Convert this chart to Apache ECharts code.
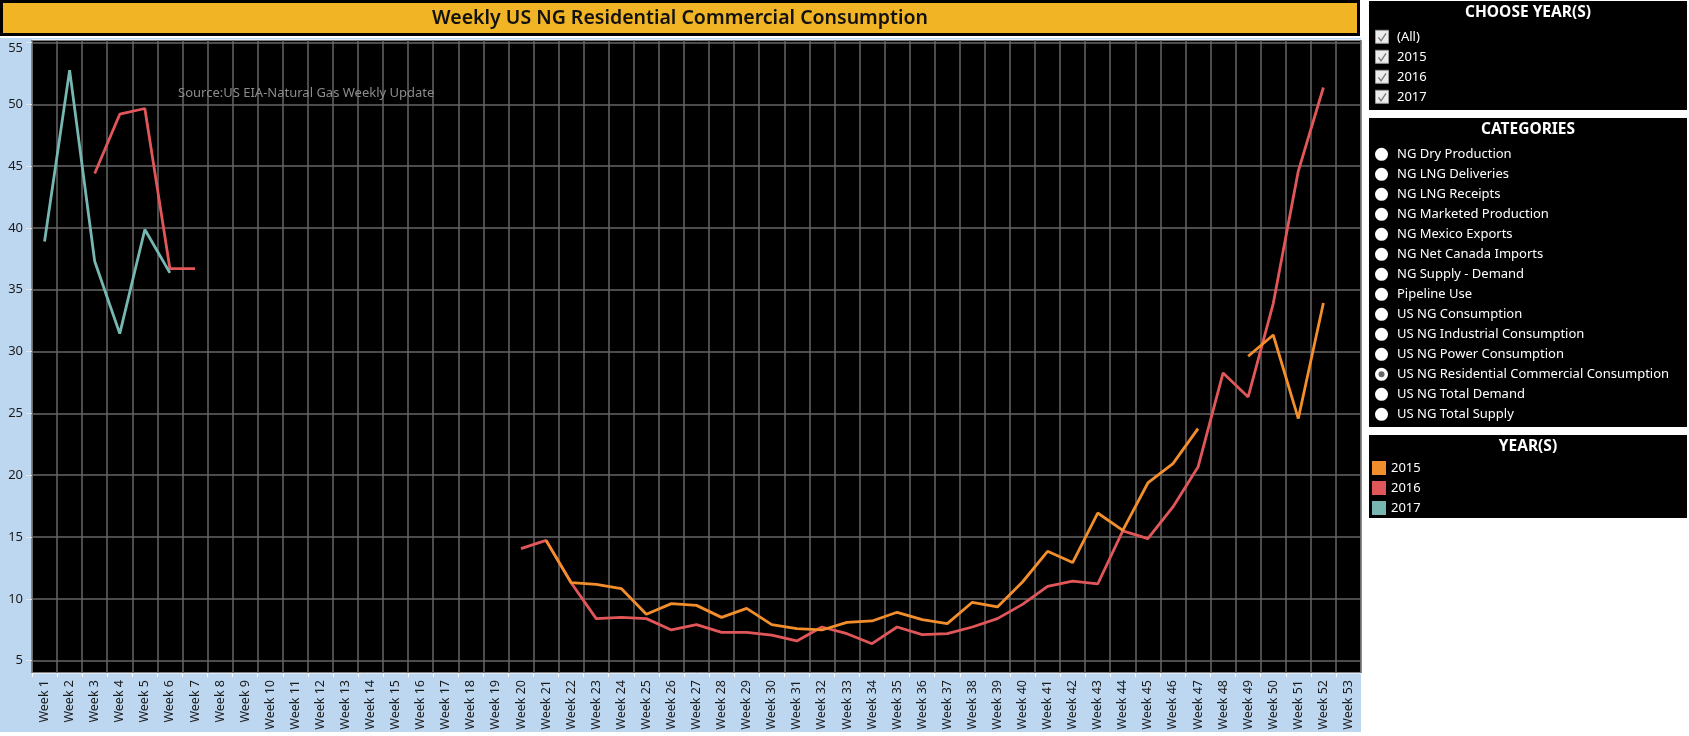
<!DOCTYPE html>
<html>
<head>
<meta charset="utf-8">
<script src="https://cdn.jsdelivr.net/npm/echarts@6/dist/echarts.min.js"></script>
<style>
html,body{margin:0;padding:0;background:#fff;}
#chart{width:1689px;height:736px;}
</style>
</head>
<body>
<div id="chart"></div>
<script>
// ---------- data ----------
var weeks = [];
for (var i = 1; i <= 53; i++) { weeks.push('Week ' + i); }
var yTicks = [5, 10, 15, 20, 25, 30, 35, 40, 45, 50, 55];
var years = ['2015', '2016', '2017'];
var yearColors = ['#F28E2B', '#E15759', '#76B7B2'];
// values by week (Week 1 .. Week 53), null = no data
var v2015 = [null, null, null, null, null, null, null, null, null, null,
  null, null, null, null, null, null, null, null, null, null,
  14.73, 11.31, 11.17, 10.83, 8.75, 9.61, 9.47, 8.50, 9.23, 7.91,
  7.59, 7.48, 8.10, 8.21, 8.91, 8.32, 7.99, 9.72, 9.34, 11.36,
  13.84, 12.93, 16.94, 15.54, 19.37, 20.94, 23.77, null, 29.62, 31.34,
  24.58, 33.93, null];
var v2016 = [null, null, 44.4, 49.2, 49.66, 36.7, 36.7, null, null, null,
  null, null, null, null, null, null, null, null, null, 14.06,
  14.73, 11.30, 8.40, 8.50, 8.40, 7.48, 7.91, 7.29, 7.29, 7.07,
  6.59, 7.72, 7.18, 6.37, 7.72, 7.10, 7.18, 7.72, 8.40, 9.55,
  11.01, 11.44, 11.20, 15.49, 14.87, 17.43, 20.66, 28.27, 26.33, 33.88,
  44.6, 51.36, null];
var v2017 = [38.9, 52.76, 37.3, 31.45, 39.87, 36.36, null, null, null, null,
  null, null, null, null, null, null, null, null, null, null,
  null, null, null, null, null, null, null, null, null, null,
  null, null, null, null, null, null, null, null, null, null,
  null, null, null, null, null, null, null, null, null, null,
  null, null, null];
var chooseYears = ['(All)', '2015', '2016', '2017'];
var categories = ['NG Dry Production', 'NG LNG Deliveries', 'NG LNG Receipts',
  'NG Marketed Production', 'NG Mexico Exports', 'NG Net Canada Imports',
  'NG Supply - Demand', 'Pipeline Use', 'US NG Consumption',
  'US NG Industrial Consumption', 'US NG Power Consumption',
  'US NG Residential Commercial Consumption', 'US NG Total Demand', 'US NG Total Supply'];
var selectedCategory = 'US NG Residential Commercial Consumption';
var titleText = 'Weekly US NG Residential Commercial Consumption';
var sourceText = 'Source:US EIA-Natural Gas Weekly Update';

// ---------- layout ----------
var FONT = 'Noto Sans';
var panelX = 1369, panelW = 318, textX = 1397;
var graphics = [];
// light blue axis band
graphics.push({type: 'rect', z: -10, shape: {x: 0, y: 38, width: 1361, height: 694}, style: {fill: '#BDD7F1'}});
// title bar
graphics.push({type: 'rect', shape: {x: 1.5, y: 1.5, width: 1357, height: 33}, style: {fill: '#F0B424', stroke: '#000', lineWidth: 3}});
graphics.push({type: 'text', x: 680, y: 18.5, style: {text: titleText, fill: '#111', font: '600 19.5px "' + FONT + '"', align: 'center', verticalAlign: 'middle'}});
// source note
graphics.push({type: 'text', z: 50, x: 178, y: 93.5, style: {text: sourceText, fill: '#8c8c8c', font: '13px "' + FONT + '"', align: 'left', verticalAlign: 'middle'}});

// panel 1: choose years
graphics.push({type: 'rect', shape: {x: panelX, y: 1, width: panelW, height: 109}, style: {fill: '#000'}});
graphics.push({type: 'text', x: 1528, y: 13, style: {text: 'CHOOSE YEAR(S)', fill: '#fff', font: 'bold 15.5px "' + FONT + '"', align: 'center', verticalAlign: 'middle'}});
chooseYears.forEach(function (t, k) {
  var cy = 37.3 + 20 * k;
  graphics.push({type: 'rect', shape: {x: 1375.5, y: cy - 7, width: 13, height: 13}, style: {fill: '#ececec', stroke: '#9a9a9a', lineWidth: 1}});
  graphics.push({type: 'polyline', shape: {points: [[1378.5, cy], [1381, cy + 3.5], [1386, cy - 4]]}, style: {stroke: '#777', lineWidth: 1.3, fill: null}});
  graphics.push({type: 'text', x: textX, y: cy, style: {text: t, fill: '#fff', font: '13px "' + FONT + '"', align: 'left', verticalAlign: 'middle'}});
});
// panel 2: categories
graphics.push({type: 'rect', shape: {x: panelX, y: 118, width: panelW, height: 309}, style: {fill: '#000'}});
graphics.push({type: 'text', x: 1528, y: 129.5, style: {text: 'CATEGORIES', fill: '#fff', font: 'bold 15.5px "' + FONT + '"', align: 'center', verticalAlign: 'middle'}});
categories.forEach(function (t, k) {
  var cy = 154.3 + 20 * k;
  graphics.push({type: 'circle', shape: {cx: 1381.5, cy: cy, r: 6.5}, style: {fill: '#fff'}});
  if (t === selectedCategory) {
    graphics.push({type: 'circle', shape: {cx: 1381.5, cy: cy, r: 3}, style: {fill: '#666'}});
  }
  graphics.push({type: 'text', x: textX, y: cy, style: {text: t, fill: '#fff', font: '13px "' + FONT + '"', align: 'left', verticalAlign: 'middle'}});
});
// panel 3: legend box
graphics.push({type: 'rect', shape: {x: panelX, y: 435, width: panelW, height: 83}, style: {fill: '#000'}});
graphics.push({type: 'text', x: 1528, y: 446.7, style: {text: 'YEAR(S)', fill: '#fff', font: 'bold 15.5px "' + FONT + '"', align: 'center', verticalAlign: 'middle'}});

var seriesData = [v2015, v2016, v2017];
var zOrder = [4, 2, 3];
var series = years.map(function (y, k) {
  return {
    name: y, type: 'line', data: seriesData[k], symbol: 'none', connectNulls: false,
    z: zOrder[k], color: yearColors[k],
    lineStyle: {width: 2.8, color: yearColors[k]},
    itemStyle: {color: yearColors[k]},
    emphasis: {disabled: true}, animation: false
  };
});

var chart = echarts.init(document.getElementById('chart'));
chart.setOption({
  animation: false,
  backgroundColor: '#fff',
  textStyle: {fontFamily: FONT},
  grid: {left: 32, top: 40, width: 1329, height: 633, show: true, backgroundColor: '#000', borderColor: '#fff', borderWidth: 1, containLabel: false},
  legend: {
    orient: 'vertical', left: 1372, top: 461, itemWidth: 14, itemHeight: 14, itemGap: 6,
    selectedMode: false,
    data: years.map(function (y) { return {name: y, icon: 'rect'}; }),
    textStyle: {color: '#fff', fontSize: 13, fontFamily: FONT, padding: [0, 0, 0, 0]},
    padding: 0
  },
  xAxis: {
    type: 'category', data: weeks, boundaryGap: true,
    axisLine: {show: false},
    axisTick: {show: true, length: 4, lineStyle: {color: '#fff', width: 1}, interval: 0},
    splitLine: {show: true, interval: 0, lineStyle: {color: '#666', width: 1.5}},
    axisLabel: {rotate: 90, interval: 0, margin: 7, fontSize: 12.5, color: '#1a1a1a', fontFamily: FONT}
  },
  yAxis: {
    type: 'value', min: 4, max: 55.2,
    axisLine: {show: false},
    axisTick: {show: true, length: 6, customValues: yTicks, lineStyle: {color: '#e6e6e6', width: 1}},
    splitLine: {show: true, lineStyle: {color: '#666', width: 1.5}},
    axisLabel: {
      customValues: yTicks, margin: 9, fontSize: 13, color: '#1a1a1a', fontFamily: FONT,
      formatter: function (v) { return v === 55 ? '{t|55}' : String(v); },
      rich: {t: {fontSize: 13, color: '#1a1a1a', fontFamily: FONT, padding: [12, 0, 0, 0]}}
    }
  },
  graphic: {elements: graphics},
  series: series
});
</script>
</body>
</html>
